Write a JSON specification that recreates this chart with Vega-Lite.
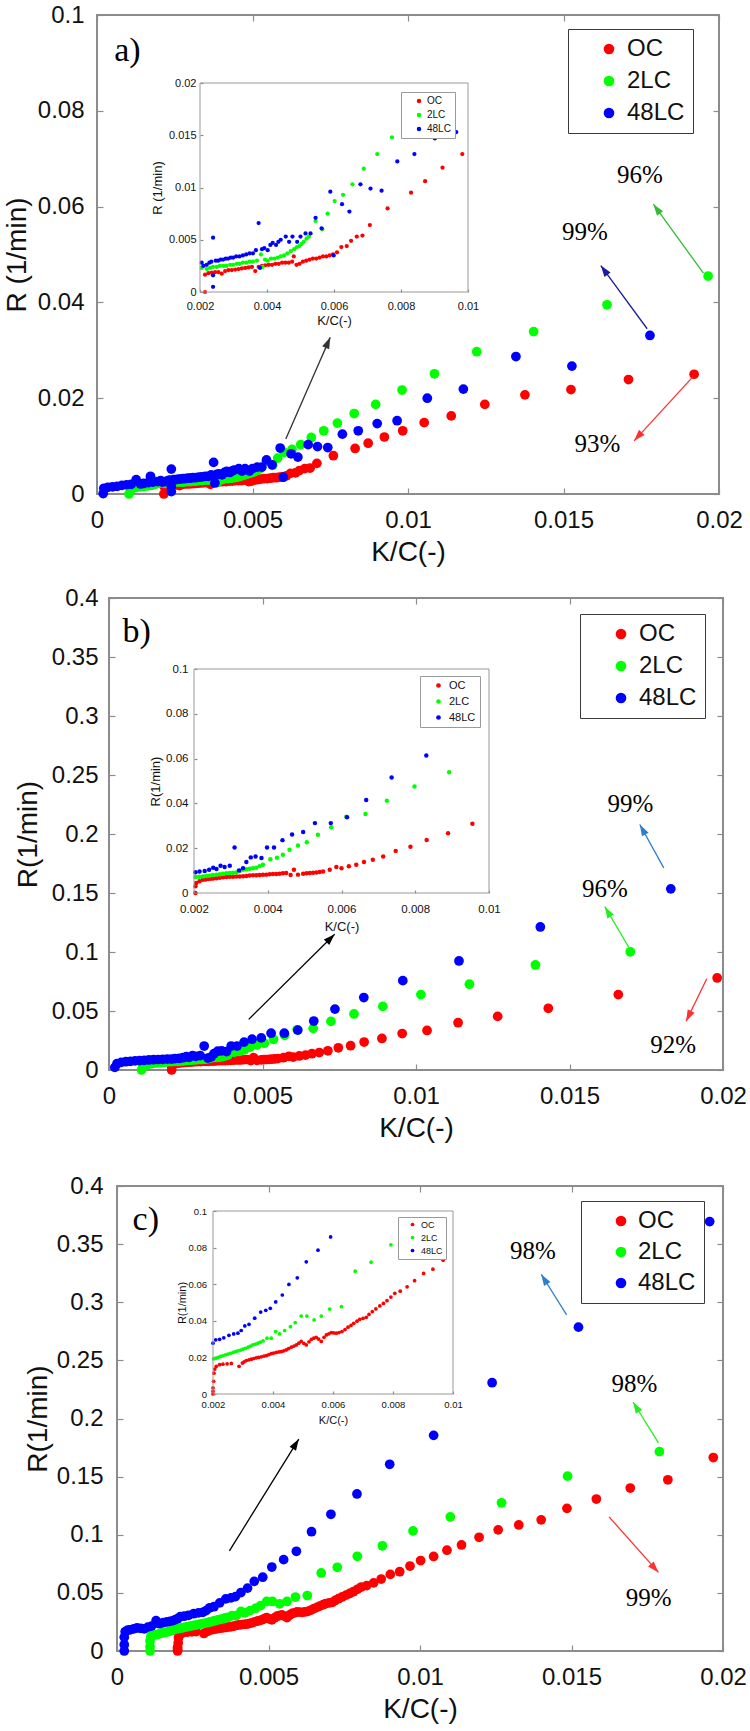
{
"$schema": "https://vega.github.io/schema/vega-lite/v6.json",
"width": 750, "height": 1731, "padding": 0, "autosize": {"type": "none"},
"background": "white",
"config": {
  "view": {"stroke": null},
  "font": "Liberation Sans",
  "axis": {"grid": false, "domain": false, "labelFont": "Liberation Sans", "titleFont": "Liberation Sans", "titleFontWeight": "normal", "labelColor": "#111", "titleColor": "#111", "tickColor": "#8c8c8c", "tickWidth": 1.2, "labelFlush": false, "labelOverlap": false, "labelBound": false, "format": "~g"},
  "legend": {"labelFont": "Liberation Sans", "labelColor": "#111", "symbolType": "circle", "symbolStrokeWidth": 0, "title": null, "orient": "none"}
},
"datasets": {
"a": [
{"s":"OC","k":0.00215,"r":0},{"s":"OC","k":0.00215,"r":0.00166},{"s":"OC","k":0.00225,"r":0.0018},{"s":"OC","k":0.00235,"r":0.00185},{"s":"OC","k":0.00245,"r":0.0019},{"s":"OC","k":0.00255,"r":0.0019},{"s":"OC","k":0.00265,"r":0.00175},{"s":"OC","k":0.00275,"r":0.002},{"s":"OC","k":0.00285,"r":0.0021},{"s":"OC","k":0.00295,"r":0.0021},{"s":"OC","k":0.00305,"r":0.00215},{"s":"OC","k":0.00315,"r":0.0022},{"s":"OC","k":0.00325,"r":0.00225},{"s":"OC","k":0.00335,"r":0.0023},{"s":"OC","k":0.00345,"r":0.00235},{"s":"OC","k":0.00355,"r":0.0024},{"s":"OC","k":0.00365,"r":0.002},{"s":"OC","k":0.00375,"r":0.0024},{"s":"OC","k":0.00385,"r":0.0025},{"s":"OC","k":0.00395,"r":0.00255},{"s":"OC","k":0.00405,"r":0.0026},{"s":"OC","k":0.00415,"r":0.0026},{"s":"OC","k":0.00425,"r":0.0027},{"s":"OC","k":0.00435,"r":0.0027},{"s":"OC","k":0.00445,"r":0.0028},{"s":"OC","k":0.00455,"r":0.0028},{"s":"OC","k":0.00465,"r":0.0028},{"s":"OC","k":0.00475,"r":0.0029},{"s":"OC","k":0.0048,"r":0.0034},{"s":"OC","k":0.00488,"r":0.0026},{"s":"OC","k":0.00497,"r":0.0027},{"s":"OC","k":0.00507,"r":0.0029},{"s":"OC","k":0.00517,"r":0.003},{"s":"OC","k":0.00527,"r":0.0031},{"s":"OC","k":0.00537,"r":0.0032},{"s":"OC","k":0.00547,"r":0.0032},{"s":"OC","k":0.00557,"r":0.0033},{"s":"OC","k":0.00567,"r":0.0034},{"s":"OC","k":0.00577,"r":0.0034},{"s":"OC","k":0.00587,"r":0.0035},{"s":"OC","k":0.00597,"r":0.0036},{"s":"OC","k":0.00609,"r":0.0038},{"s":"OC","k":0.00622,"r":0.0043},{"s":"OC","k":0.00638,"r":0.0044},{"s":"OC","k":0.00651,"r":0.0049},{"s":"OC","k":0.00668,"r":0.0053},{"s":"OC","k":0.00685,"r":0.0054},{"s":"OC","k":0.00707,"r":0.0064},{"s":"OC","k":0.0076,"r":0.008},{"s":"OC","k":0.0083,"r":0.0095},{"s":"OC","k":0.00872,"r":0.0106},{"s":"OC","k":0.00924,"r":0.0119},{"s":"OC","k":0.00983,"r":0.0132},{"s":"OC","k":0.01052,"r":0.0149},{"s":"OC","k":0.01139,"r":0.0163},{"s":"OC","k":0.01247,"r":0.0187},{"s":"OC","k":0.01376,"r":0.0207},{"s":"OC","k":0.01524,"r":0.0218},{"s":"OC","k":0.01709,"r":0.0239},{"s":"OC","k":0.0192,"r":0.025},
{"s":"2LC","k":0.00103,"r":0},{"s":"2LC","k":0.00115,"r":0.0012},{"s":"2LC","k":0.00127,"r":0.0014},{"s":"2LC","k":0.00139,"r":0.0015},{"s":"2LC","k":0.00151,"r":0.0016},{"s":"2LC","k":0.00163,"r":0.0017},{"s":"2LC","k":0.00175,"r":0.0018},{"s":"2LC","k":0.00187,"r":0.002},{"s":"2LC","k":0.00205,"r":0.0023},{"s":"2LC","k":0.0022,"r":0.0022},{"s":"2LC","k":0.0023,"r":0.0023},{"s":"2LC","k":0.00239,"r":0.0024},{"s":"2LC","k":0.0025,"r":0.0024},{"s":"2LC","k":0.00259,"r":0.0025},{"s":"2LC","k":0.0027,"r":0.0025},{"s":"2LC","k":0.00279,"r":0.0025},{"s":"2LC","k":0.0029,"r":0.0026},{"s":"2LC","k":0.00299,"r":0.0026},{"s":"2LC","k":0.0031,"r":0.0027},{"s":"2LC","k":0.00318,"r":0.0027},{"s":"2LC","k":0.00328,"r":0.0028},{"s":"2LC","k":0.00338,"r":0.0028},{"s":"2LC","k":0.00348,"r":0.0029},{"s":"2LC","k":0.00358,"r":0.0029},{"s":"2LC","k":0.0037,"r":0.003},{"s":"2LC","k":0.00382,"r":0.0036},{"s":"2LC","k":0.00387,"r":0.0024},{"s":"2LC","k":0.00394,"r":0.0031},{"s":"2LC","k":0.00402,"r":0.003},{"s":"2LC","k":0.00412,"r":0.0032},{"s":"2LC","k":0.00422,"r":0.0032},{"s":"2LC","k":0.00432,"r":0.0033},{"s":"2LC","k":0.00441,"r":0.0034},{"s":"2LC","k":0.00451,"r":0.0035},{"s":"2LC","k":0.00461,"r":0.0037},{"s":"2LC","k":0.00471,"r":0.0039},{"s":"2LC","k":0.00481,"r":0.0041},{"s":"2LC","k":0.00489,"r":0.0043},{"s":"2LC","k":0.00496,"r":0.0044},{"s":"2LC","k":0.00503,"r":0.0046},{"s":"2LC","k":0.0051,"r":0.0048},{"s":"2LC","k":0.00518,"r":0.0051},{"s":"2LC","k":0.00525,"r":0.0053},{"s":"2LC","k":0.00545,"r":0.0068},{"s":"2LC","k":0.00565,"r":0.006},{"s":"2LC","k":0.00581,"r":0.0075},{"s":"2LC","k":0.00602,"r":0.0087},{"s":"2LC","k":0.00627,"r":0.0093},{"s":"2LC","k":0.00655,"r":0.0103},{"s":"2LC","k":0.00689,"r":0.0118},{"s":"2LC","k":0.00729,"r":0.0132},{"s":"2LC","k":0.00773,"r":0.0148},{"s":"2LC","k":0.00827,"r":0.0168},{"s":"2LC","k":0.00896,"r":0.0187},{"s":"2LC","k":0.00981,"r":0.0217},{"s":"2LC","k":0.01085,"r":0.0251},{"s":"2LC","k":0.01221,"r":0.0297},{"s":"2LC","k":0.01404,"r":0.0339},{"s":"2LC","k":0.0164,"r":0.0395},{"s":"2LC","k":0.01965,"r":0.0455},
{"s":"48LC","k":0.0002,"r":0.0001},{"s":"48LC","k":0.00022,"r":0.0012},{"s":"48LC","k":0.00035,"r":0.0014},{"s":"48LC","k":0.0005,"r":0.0015},{"s":"48LC","k":0.00065,"r":0.0016},{"s":"48LC","k":0.0008,"r":0.0018},{"s":"48LC","k":0.00095,"r":0.0019},{"s":"48LC","k":0.0011,"r":0.002},{"s":"48LC","k":0.00126,"r":0.003},{"s":"48LC","k":0.0014,"r":0.0021},{"s":"48LC","k":0.0015,"r":0.0022},{"s":"48LC","k":0.00165,"r":0.0024},{"s":"48LC","k":0.00172,"r":0.0037},{"s":"48LC","k":0.0018,"r":0.0025},{"s":"48LC","k":0.00195,"r":0.0026},
{"s":"48LC","k":0.00205,"r":0.0028},{"s":"48LC","k":0.0021,"r":0.0025},{"s":"48LC","k":0.0022,"r":0.0026},{"s":"48LC","k":0.00228,"r":0.0028},{"s":"48LC","k":0.00234,"r":0.0029},{"s":"48LC","k":0.00239,"r":0.0052},{"s":"48LC","k":0.00239,"r":0.0016},{"s":"48LC","k":0.00239,"r":0.0005},{"s":"48LC","k":0.00247,"r":0.003},{"s":"48LC","k":0.00254,"r":0.003},{"s":"48LC","k":0.00262,"r":0.0031},{"s":"48LC","k":0.00269,"r":0.0031},{"s":"48LC","k":0.00277,"r":0.0032},{"s":"48LC","k":0.00284,"r":0.0032},{"s":"48LC","k":0.00292,"r":0.0033},{"s":"48LC","k":0.00299,"r":0.0033},{"s":"48LC","k":0.00308,"r":0.0034},{"s":"48LC","k":0.00318,"r":0.0034},{"s":"48LC","k":0.00328,"r":0.0035},{"s":"48LC","k":0.00338,"r":0.0036},{"s":"48LC","k":0.00348,"r":0.0037},{"s":"48LC","k":0.00358,"r":0.0037},{"s":"48LC","k":0.00367,"r":0.004},{"s":"48LC","k":0.00375,"r":0.0066},{"s":"48LC","k":0.00379,"r":0.0023},{"s":"48LC","k":0.00385,"r":0.0041},{"s":"48LC","k":0.00392,"r":0.0042},{"s":"48LC","k":0.00402,"r":0.004},{"s":"48LC","k":0.0041,"r":0.0045},{"s":"48LC","k":0.00417,"r":0.0047},{"s":"48LC","k":0.00427,"r":0.0045},{"s":"48LC","k":0.00434,"r":0.0048},{"s":"48LC","k":0.00441,"r":0.005},{"s":"48LC","k":0.00456,"r":0.0053},{"s":"48LC","k":0.00466,"r":0.0048},{"s":"48LC","k":0.00476,"r":0.0053},{"s":"48LC","k":0.0049,"r":0.0048},{"s":"48LC","k":0.005,"r":0.0053},{"s":"48LC","k":0.00515,"r":0.0056},{"s":"48LC","k":0.0053,"r":0.0056},{"s":"48LC","k":0.00545,"r":0.0071},{"s":"48LC","k":0.00563,"r":0.0061},{"s":"48LC","k":0.00589,"r":0.0096},{"s":"48LC","k":0.00599,"r":0.0035},{"s":"48LC","k":0.00624,"r":0.0084},{"s":"48LC","k":0.00646,"r":0.0077},{"s":"48LC","k":0.00679,"r":0.0103},{"s":"48LC","k":0.00709,"r":0.0099},{"s":"48LC","k":0.00742,"r":0.0097},{"s":"48LC","k":0.00789,"r":0.0125},{"s":"48LC","k":0.0084,"r":0.0132},{"s":"48LC","k":0.00901,"r":0.0147},{"s":"48LC","k":0.00965,"r":0.0153},{"s":"48LC","k":0.01062,"r":0.02},{"s":"48LC","k":0.01178,"r":0.0219},{"s":"48LC","k":0.01347,"r":0.0287},{"s":"48LC","k":0.01527,"r":0.0267},{"s":"48LC","k":0.01778,"r":0.0331}
],
"b": [
{"s":"OC","k":0.00204,"r":0},{"s":"OC","k":0.00204,"r":0.003},{"s":"OC","k":0.00206,"r":0.0045},{"s":"OC","k":0.00215,"r":0.0052},{"s":"OC","k":0.00224,"r":0.0059},{"s":"OC","k":0.00231,"r":0.006},{"s":"OC","k":0.00238,"r":0.0062},{"s":"OC","k":0.00245,"r":0.0064},{"s":"OC","k":0.00252,"r":0.0065},{"s":"OC","k":0.00261,"r":0.0066},{"s":"OC","k":0.0027,"r":0.0068},{"s":"OC","k":0.00279,"r":0.007},{"s":"OC","k":0.00288,"r":0.0071},{"s":"OC","k":0.00297,"r":0.0072},{"s":"OC","k":0.00306,"r":0.0073},{"s":"OC","k":0.00315,"r":0.0074},{"s":"OC","k":0.00324,"r":0.0074},{"s":"OC","k":0.00333,"r":0.0075},{"s":"OC","k":0.00342,"r":0.0076},{"s":"OC","k":0.00351,"r":0.0078},{"s":"OC","k":0.0036,"r":0.0079},{"s":"OC","k":0.00369,"r":0.0079},{"s":"OC","k":0.00378,"r":0.008},{"s":"OC","k":0.00387,"r":0.0081},{"s":"OC","k":0.00396,"r":0.0082},{"s":"OC","k":0.00405,"r":0.0084},{"s":"OC","k":0.00414,"r":0.0085},{"s":"OC","k":0.00423,"r":0.0085},{"s":"OC","k":0.00432,"r":0.0086},{"s":"OC","k":0.00441,"r":0.0088},{"s":"OC","k":0.0045,"r":0.0089},{"s":"OC","k":0.00462,"r":0.008},{"s":"OC","k":0.00471,"r":0.0104},{"s":"OC","k":0.00482,"r":0.0082},{"s":"OC","k":0.00496,"r":0.0086},{"s":"OC","k":0.00505,"r":0.0088},{"s":"OC","k":0.00514,"r":0.0089},{"s":"OC","k":0.00523,"r":0.009},{"s":"OC","k":0.00532,"r":0.0092},{"s":"OC","k":0.00541,"r":0.0094},{"s":"OC","k":0.0055,"r":0.0096},{"s":"OC","k":0.00568,"r":0.0104},{"s":"OC","k":0.00586,"r":0.0116},{"s":"OC","k":0.006,"r":0.011},{"s":"OC","k":0.0062,"r":0.0119},{"s":"OC","k":0.0064,"r":0.0126},{"s":"OC","k":0.00661,"r":0.0138},{"s":"OC","k":0.00685,"r":0.0148},{"s":"OC","k":0.00713,"r":0.0163},{"s":"OC","k":0.00747,"r":0.0188},{"s":"OC","k":0.00787,"r":0.0206},{"s":"OC","k":0.00831,"r":0.0237},{"s":"OC","k":0.00889,"r":0.0267},{"s":"OC","k":0.00955,"r":0.0309},{"s":"OC","k":0.01036,"r":0.0335},{"s":"OC","k":0.01137,"r":0.0401},{"s":"OC","k":0.01266,"r":0.0454},{"s":"OC","k":0.01431,"r":0.0523},{"s":"OC","k":0.01659,"r":0.0639},{"s":"OC","k":0.01981,"r":0.078},
{"s":"2LC","k":0.00106,"r":0},{"s":"2LC","k":0.0011,"r":0.0035},{"s":"2LC","k":0.0012,"r":0.0045},{"s":"2LC","k":0.0013,"r":0.005},{"s":"2LC","k":0.0014,"r":0.0055},{"s":"2LC","k":0.0015,"r":0.0058},{"s":"2LC","k":0.0016,"r":0.006},{"s":"2LC","k":0.0017,"r":0.0063},{"s":"2LC","k":0.0018,"r":0.0066},{"s":"2LC","k":0.0019,"r":0.0068},{"s":"2LC","k":0.00204,"r":0.0071},{"s":"2LC","k":0.00214,"r":0.0073},{"s":"2LC","k":0.00224,"r":0.0074},{"s":"2LC","k":0.00233,"r":0.0076},{"s":"2LC","k":0.00242,"r":0.0077},{"s":"2LC","k":0.00251,"r":0.008},{"s":"2LC","k":0.00261,"r":0.0082},{"s":"2LC","k":0.0027,"r":0.0084},{"s":"2LC","k":0.00279,"r":0.0086},{"s":"2LC","k":0.00288,"r":0.0088},{"s":"2LC","k":0.00297,"r":0.0089},{"s":"2LC","k":0.00306,"r":0.009},{"s":"2LC","k":0.00315,"r":0.0092},{"s":"2LC","k":0.00324,"r":0.0098},{"s":"2LC","k":0.00333,"r":0.0104},{"s":"2LC","k":0.00342,"r":0.0106},{"s":"2LC","k":0.00351,"r":0.0108},{"s":"2LC","k":0.0036,"r":0.011},{"s":"2LC","k":0.00369,"r":0.0113},{"s":"2LC","k":0.00378,"r":0.012},{"s":"2LC","k":0.00387,"r":0.0126},{"s":"2LC","k":0.00407,"r":0.0151},{"s":"2LC","k":0.00425,"r":0.0157},{"s":"2LC","k":0.00441,"r":0.0171},{"s":"2LC","k":0.00459,"r":0.0193},{"s":"2LC","k":0.00482,"r":0.0212},{"s":"2LC","k":0.00506,"r":0.0227},{"s":"2LC","k":0.00536,"r":0.026},{"s":"2LC","k":0.00572,"r":0.0294},{"s":"2LC","k":0.00613,"r":0.0341},{"s":"2LC","k":0.00665,"r":0.0353},{"s":"2LC","k":0.00723,"r":0.0412},{"s":"2LC","k":0.00798,"r":0.0475},{"s":"2LC","k":0.00892,"r":0.0539},{"s":"2LC","k":0.01016,"r":0.0639},{"s":"2LC","k":0.01174,"r":0.0727},{"s":"2LC","k":0.01389,"r":0.089},{"s":"2LC","k":0.01698,"r":0.1002},
{"s":"48LC","k":0.00019,"r":0.0022},{"s":"48LC","k":0.00026,"r":0.0053},{"s":"48LC","k":0.0004,"r":0.0065},{"s":"48LC","k":0.00055,"r":0.007},{"s":"48LC","k":0.0007,"r":0.0074},{"s":"48LC","k":0.00085,"r":0.0077},{"s":"48LC","k":0.001,"r":0.008},{"s":"48LC","k":0.00115,"r":0.0082},{"s":"48LC","k":0.0013,"r":0.0085},{"s":"48LC","k":0.00145,"r":0.0087},{"s":"48LC","k":0.0016,"r":0.0089},{"s":"48LC","k":0.00175,"r":0.0091},{"s":"48LC","k":0.0019,"r":0.0092},{"s":"48LC","k":0.00204,"r":0.0093},{"s":"48LC","k":0.00215,"r":0.0096},{"s":"48LC","k":0.00229,"r":0.0098},{"s":"48LC","k":0.00241,"r":0.0104},{"s":"48LC","k":0.00252,"r":0.0113},{"s":"48LC","k":0.00261,"r":0.0107},{"s":"48LC","k":0.00272,"r":0.0122},{"s":"48LC","k":0.00283,"r":0.0116},{"s":"48LC","k":0.00297,"r":0.0122},{"s":"48LC","k":0.0031,"r":0.0203},{"s":"48LC","k":0.00322,"r":0.0101},{"s":"48LC","k":0.00333,"r":0.0111},{"s":"48LC","k":0.00342,"r":0.0138},{"s":"48LC","k":0.00354,"r":0.0159},{"s":"48LC","k":0.00367,"r":0.0163},{"s":"48LC","k":0.00383,"r":0.0156},{"s":"48LC","k":0.00398,"r":0.0203},{"s":"48LC","k":0.00417,"r":0.0203},{"s":"48LC","k":0.0044,"r":0.0236},{"s":"48LC","k":0.00466,"r":0.0261},{"s":"48LC","k":0.00496,"r":0.0272},{"s":"48LC","k":0.00528,"r":0.0312},{"s":"48LC","k":0.00571,"r":0.0312},{"s":"48LC","k":0.00615,"r":0.0338},{"s":"48LC","k":0.00667,"r":0.0415},{"s":"48LC","k":0.00736,"r":0.0516},{"s":"48LC","k":0.0083,"r":0.0614},{"s":"48LC","k":0.00957,"r":0.0757},{"s":"48LC","k":0.0114,"r":0.0924},{"s":"48LC","k":0.01405,"r":0.1212},{"s":"48LC","k":0.0183,"r":0.1535}
],
"c": [
{"s":"OC","k":0.002,"r":0},{"s":"OC","k":0.002,"r":0.0015},{"s":"OC","k":0.002,"r":0.0033},{"s":"OC","k":0.00202,"r":0.0069},{"s":"OC","k":0.00203,"r":0.0114},{"s":"OC","k":0.00206,"r":0.0136},{"s":"OC","k":0.00211,"r":0.0151},{"s":"OC","k":0.00222,"r":0.016},{"s":"OC","k":0.00233,"r":0.0163},{"s":"OC","k":0.00247,"r":0.0165},{"s":"OC","k":0.00261,"r":0.0167},{"s":"OC","k":0.00287,"r":0.0151},{"s":"OC","k":0.00298,"r":0.0169},{"s":"OC","k":0.00304,"r":0.0176},{"s":"OC","k":0.00311,"r":0.0183},{"s":"OC","k":0.0032,"r":0.0187},{"s":"OC","k":0.00328,"r":0.019},{"s":"OC","k":0.00336,"r":0.0194},{"s":"OC","k":0.00344,"r":0.0198},{"s":"OC","k":0.00352,"r":0.02},{"s":"OC","k":0.00361,"r":0.0203},{"s":"OC","k":0.0037,"r":0.0207},{"s":"OC","k":0.00378,"r":0.021},{"s":"OC","k":0.00386,"r":0.0215},{"s":"OC","k":0.00394,"r":0.022},{"s":"OC","k":0.00402,"r":0.0224},{"s":"OC","k":0.00411,"r":0.0227},{"s":"OC","k":0.0042,"r":0.023},{"s":"OC","k":0.00428,"r":0.0232},{"s":"OC","k":0.00436,"r":0.0236},{"s":"OC","k":0.00444,"r":0.0241},{"s":"OC","k":0.00452,"r":0.0248},{"s":"OC","k":0.00461,"r":0.0256},{"s":"OC","k":0.0047,"r":0.0262},{"s":"OC","k":0.00478,"r":0.0268},{"s":"OC","k":0.00486,"r":0.0278},{"s":"OC","k":0.00494,"r":0.0287},{"s":"OC","k":0.00503,"r":0.0276},{"s":"OC","k":0.00511,"r":0.0268},{"s":"OC","k":0.0052,"r":0.0285},{"s":"OC","k":0.00528,"r":0.0299},{"s":"OC","k":0.00536,"r":0.0305},{"s":"OC","k":0.00544,"r":0.031},{"s":"OC","k":0.00552,"r":0.03},{"s":"OC","k":0.00561,"r":0.0287},{"s":"OC","k":0.0057,"r":0.031},{"s":"OC","k":0.00578,"r":0.0323},{"s":"OC","k":0.00586,"r":0.0329},{"s":"OC","k":0.00594,"r":0.0336},{"s":"OC","k":0.00602,"r":0.0334},{"s":"OC","k":0.00611,"r":0.0332},{"s":"OC","k":0.0062,"r":0.0336},{"s":"OC","k":0.0063,"r":0.0341},{"s":"OC","k":0.0064,"r":0.0352},{"s":"OC","k":0.0065,"r":0.0365},{"s":"OC","k":0.0066,"r":0.0375},{"s":"OC","k":0.00669,"r":0.0386},{"s":"OC","k":0.0068,"r":0.0398},{"s":"OC","k":0.00689,"r":0.0408},{"s":"OC","k":0.007,"r":0.0413},{"s":"OC","k":0.00711,"r":0.0419},{"s":"OC","k":0.0072,"r":0.0435},{"s":"OC","k":0.00731,"r":0.045},{"s":"OC","k":0.00743,"r":0.0465},{"s":"OC","k":0.00756,"r":0.0481},{"s":"OC","k":0.00768,"r":0.0495},{"s":"OC","k":0.0078,"r":0.051},{"s":"OC","k":0.00793,"r":0.053},{"s":"OC","k":0.00806,"r":0.055},{"s":"OC","k":0.00824,"r":0.0562},{"s":"OC","k":0.00847,"r":0.0586},{"s":"OC","k":0.00872,"r":0.0619},{"s":"OC","k":0.00902,"r":0.0659},{"s":"OC","k":0.00933,"r":0.0682},{"s":"OC","k":0.00967,"r":0.0731},{"s":"OC","k":0.01002,"r":0.0778},{"s":"OC","k":0.01045,"r":0.0813},{"s":"OC","k":0.01089,"r":0.0867},{"s":"OC","k":0.01137,"r":0.0912},{"s":"OC","k":0.01195,"r":0.0978},{"s":"OC","k":0.01258,"r":0.1042},{"s":"OC","k":0.01326,"r":0.1084},{"s":"OC","k":0.014,"r":0.1128},{"s":"OC","k":0.01485,"r":0.1227},{"s":"OC","k":0.01582,"r":0.1307},{"s":"OC","k":0.01694,"r":0.1402},{"s":"OC","k":0.01818,"r":0.1473},{"s":"OC","k":0.01968,"r":0.1664},
{"s":"2LC","k":0.00109,"r":0},{"s":"2LC","k":0.00109,"r":0.0038},{"s":"2LC","k":0.00109,"r":0.0086},{"s":"2LC","k":0.00112,"r":0.0127},{"s":"2LC","k":0.0012,"r":0.0135},{"s":"2LC","k":0.0013,"r":0.014},{"s":"2LC","k":0.0014,"r":0.0147},{"s":"2LC","k":0.0015,"r":0.0155},{"s":"2LC","k":0.0016,"r":0.016},{"s":"2LC","k":0.0017,"r":0.0167},{"s":"2LC","k":0.0018,"r":0.0175},{"s":"2LC","k":0.0019,"r":0.0185},{"s":"2LC","k":0.00202,"r":0.0192},{"s":"2LC","k":0.0021,"r":0.0196},{"s":"2LC","k":0.00217,"r":0.02},{"s":"2LC","k":0.00225,"r":0.0205},{"s":"2LC","k":0.00233,"r":0.0209},{"s":"2LC","k":0.00242,"r":0.0214},{"s":"2LC","k":0.0025,"r":0.0218},{"s":"2LC","k":0.00258,"r":0.0222},{"s":"2LC","k":0.00267,"r":0.0227},{"s":"2LC","k":0.00275,"r":0.0231},{"s":"2LC","k":0.00283,"r":0.0236},{"s":"2LC","k":0.00292,"r":0.024},{"s":"2LC","k":0.003,"r":0.0245},{"s":"2LC","k":0.00308,"r":0.025},{"s":"2LC","k":0.00317,"r":0.0256},{"s":"2LC","k":0.00325,"r":0.0262},{"s":"2LC","k":0.00333,"r":0.0268},{"s":"2LC","k":0.00342,"r":0.0273},{"s":"2LC","k":0.0035,"r":0.0278},{"s":"2LC","k":0.00358,"r":0.0284},{"s":"2LC","k":0.00367,"r":0.029},{"s":"2LC","k":0.0038,"r":0.0305},{"s":"2LC","k":0.00394,"r":0.0305},{"s":"2LC","k":0.00409,"r":0.0341},{"s":"2LC","k":0.00422,"r":0.0328},{"s":"2LC","k":0.00439,"r":0.0347},{"s":"2LC","k":0.00458,"r":0.0368},{"s":"2LC","k":0.00474,"r":0.039},{"s":"2LC","k":0.00494,"r":0.0426},{"s":"2LC","k":0.00513,"r":0.0426},{"s":"2LC","k":0.00537,"r":0.0405},{"s":"2LC","k":0.00561,"r":0.0426},{"s":"2LC","k":0.00589,"r":0.0464},{"s":"2LC","k":0.00628,"r":0.0477},{"s":"2LC","k":0.00674,"r":0.0671},{"s":"2LC","k":0.00727,"r":0.072},{"s":"2LC","k":0.00793,"r":0.0815},{"s":"2LC","k":0.00876,"r":0.0905},{"s":"2LC","k":0.00977,"r":0.1033},{"s":"2LC","k":0.011,"r":0.1154},{"s":"2LC","k":0.01269,"r":0.1275},{"s":"2LC","k":0.01487,"r":0.1504},{"s":"2LC","k":0.0179,"r":0.1715},
{"s":"48LC","k":0.00024,"r":0},{"s":"48LC","k":0.00024,"r":0.0054},{"s":"48LC","k":0.00024,"r":0.0118},{"s":"48LC","k":0.00027,"r":0.0166},{"s":"48LC","k":0.00035,"r":0.018},{"s":"48LC","k":0.00043,"r":0.0182},{"s":"48LC","k":0.00055,"r":0.019},{"s":"48LC","k":0.00066,"r":0.0198},{"s":"48LC","k":0.00078,"r":0.0195},{"s":"48LC","k":0.0009,"r":0.0191},{"s":"48LC","k":0.00102,"r":0.0205},{"s":"48LC","k":0.00114,"r":0.0214},{"s":"48LC","k":0.00129,"r":0.0261},{"s":"48LC","k":0.0014,"r":0.0235},{"s":"48LC","k":0.00153,"r":0.0245},{"s":"48LC","k":0.00165,"r":0.025},{"s":"48LC","k":0.00175,"r":0.0255},{"s":"48LC","k":0.00185,"r":0.0261},{"s":"48LC","k":0.00193,"r":0.027},{"s":"48LC","k":0.002,"r":0.0278},{"s":"48LC","k":0.00209,"r":0.0296},{"s":"48LC","k":0.00222,"r":0.0299},{"s":"48LC","k":0.00236,"r":0.0307},{"s":"48LC","k":0.00253,"r":0.0321},{"s":"48LC","k":0.00269,"r":0.0328},{"s":"48LC","k":0.00283,"r":0.0332},{"s":"48LC","k":0.00294,"r":0.0347},{"s":"48LC","k":0.00306,"r":0.0372},{"s":"48LC","k":0.0032,"r":0.0381},{"s":"48LC","k":0.00339,"r":0.0414},{"s":"48LC","k":0.00359,"r":0.0448},{"s":"48LC","k":0.00376,"r":0.0457},{"s":"48LC","k":0.00391,"r":0.0468},{"s":"48LC","k":0.00409,"r":0.0503},{"s":"48LC","k":0.00431,"r":0.0541},{"s":"48LC","k":0.00453,"r":0.0599},{"s":"48LC","k":0.00481,"r":0.0635},{"s":"48LC","k":0.00511,"r":0.0722},{"s":"48LC","k":0.0055,"r":0.0786},{"s":"48LC","k":0.00592,"r":0.0858},{"s":"48LC","k":0.00642,"r":0.1026},{"s":"48LC","k":0.00706,"r":0.1176},{"s":"48LC","k":0.00792,"r":0.1351},{"s":"48LC","k":0.009,"r":0.1606},{"s":"48LC","k":0.01045,"r":0.1855},{"s":"48LC","k":0.01238,"r":0.2308},{"s":"48LC","k":0.01523,"r":0.2786},{"s":"48LC","k":0.01956,"r":0.3694}
],
"arr": [
{"p":"a","kind":"zoom","x":0.00607,"y":0.0115,"x2":0.0075,"y2":0.0327,"dir":23.6},
{"p":"a","kind":"2LC","x":0.0195,"y":0.0461,"x2":0.01789,"y2":0.0605,"dir":-35.9},
{"p":"a","kind":"48LC","x":0.01769,"y":0.0345,"x2":0.0162,"y2":0.0477,"dir":-36.1},
{"p":"a","kind":"OC","x":0.01915,"y":0.0244,"x2":0.01727,"y2":0.0111,"dir":-137.5},
{"p":"b","kind":"zoom","x":0.00455,"y":0.0429,"x2":0.00735,"y2":0.115,"dir":45.3},
{"p":"b","kind":"48LC","x":0.01807,"y":0.1713,"x2":0.01729,"y2":0.208,"dir":-28.9},
{"p":"b","kind":"2LC","x":0.01693,"y":0.104,"x2":0.01615,"y2":0.1384,"dir":-30.5},
{"p":"b","kind":"OC","x":0.01947,"y":0.0774,"x2":0.0188,"y2":0.0413,"dir":-154.2},
{"p":"c","kind":"zoom","x":0.00371,"y":0.0861,"x2":0.006,"y2":0.1823,"dir":31.8},
{"p":"c","kind":"48LC","x":0.01484,"y":0.2891,"x2":0.014,"y2":0.3241,"dir":-32},
{"p":"c","kind":"2LC","x":0.01787,"y":0.1791,"x2":0.01703,"y2":0.2142,"dir":-31.9},
{"p":"c","kind":"OC","x":0.01624,"y":0.1154,"x2":0.01787,"y2":0.0676,"dir":138.4}
],
"lab": [
{"p":"a","t":"96%","x":0.01746,"y":0.0665},{"p":"a","t":"99%","x":0.01569,"y":0.0546},{"p":"a","t":"93%","x":0.01609,"y":0.0104},
{"p":"b","t":"99%","x":0.01698,"y":0.2255},{"p":"b","t":"96%","x":0.01615,"y":0.1535},{"p":"b","t":"92%","x":0.01838,"y":0.021},
{"p":"c","t":"98%","x":0.01373,"y":0.3442},{"p":"c","t":"98%","x":0.01708,"y":0.2295},{"p":"c","t":"99%","x":0.01755,"y":0.0459}
],
"pl": [
{"p":"a","t":"a)","x":0.00098,"y":0.0924},{"p":"b","t":"b)","x":0.0009,"y":0.371},{"p":"c","t":"c)","x":0.00095,"y":0.3708}
]
},
"layer": [
{
 "layer": [
  {"data": {"values": [{}]}, "mark": {"type": "rect", "fillOpacity": 0, "stroke": "#8c8c8c", "strokeWidth": 2},
   "encoding": {
    "x": {"datum": 0, "type": "quantitative", "scale": {"domain": [0, 0.02], "range": [97, 719], "nice": false, "zero": false}, "axis": {"orient": "top", "offset": -15, "values": [0, 0.005, 0.01, 0.015, 0.02], "labels": false, "title": null, "tickSize": -6}},
    "x2": {"datum": 0.02},
    "y": {"datum": 0, "type": "quantitative", "scale": {"domain": [0, 0.1], "range": [494, 15], "nice": false, "zero": false}, "axis": {"orient": "right", "offset": -31, "values": [0, 0.02, 0.04, 0.06, 0.08, 0.1], "labels": false, "title": null, "tickSize": -6}},
    "y2": {"datum": 0.1}}},
  {"data": {"name": "a"}, "mark": {"type": "point", "filled": true, "size": 95, "opacity": 1},
   "encoding": {
    "x": {"field": "k", "type": "quantitative", "scale": {"domain": [0, 0.02], "range": [97, 719], "nice": false, "zero": false}, "axis": {"orient": "bottom", "offset": -1237, "values": [0, 0.005, 0.01, 0.015, 0.02], "labelFontSize": 24, "labelPadding": 20, "tickSize": -6, "title": "K/C(-)", "titleFontSize": 28, "titlePadding": 6}},
    "y": {"field": "r", "type": "quantitative", "scale": {"domain": [0, 0.1], "range": [494, 15], "nice": false, "zero": false}, "axis": {"orient": "left", "offset": -97, "values": [0, 0.02, 0.04, 0.06, 0.08, 0.1], "labelFontSize": 24, "labelPadding": 19, "tickSize": -6, "title": "R (1/min)", "titleFontSize": 28, "titlePadding": 6}},
    "color": {"field": "s", "type": "nominal", "sort": null, "scale": {"domain": ["OC", "2LC", "48LC"], "range": ["#ff0000", "#00ff00", "#0000ff"]},
      "legend": {"orient": "none", "legendX": 568, "legendY": 29, "labelFontSize": 24, "symbolSize": 113, "padding": 8, "symbolOffset": 21, "labelOffset": 6, "rowPadding": 8, "strokeColor": "#3a3a3a", "fillColor": "white"}}}},
  {"data": {"name": "arr"}, "transform": [{"filter": "datum.p === 'a'"}], "mark": {"type": "rule", "strokeWidth": 1.3},
   "encoding": {"x": {"field": "x", "type": "quantitative", "axis": null}, "y": {"field": "y", "type": "quantitative", "axis": null}, "x2": {"field": "x2"}, "y2": {"field": "y2"},
    "stroke": {"field": "kind", "type": "nominal", "scale": {"domain": ["OC", "2LC", "48LC", "zoom"], "range": ["#ff3030", "#33bb33", "#1c1ca0", "#333333"]}, "legend": null}}},
  {"data": {"name": "arr"}, "transform": [{"filter": "datum.p === 'a'"}], "mark": {"type": "point", "shape": "M0,0L0.6,1.8L-0.6,1.8Z", "filled": true, "size": 160, "strokeWidth": 0, "opacity": 1},
   "encoding": {"x": {"field": "x2", "type": "quantitative", "axis": null}, "y": {"field": "y2", "type": "quantitative", "axis": null}, "angle": {"field": "dir", "type": "quantitative", "scale": null},
    "fill": {"field": "kind", "type": "nominal", "scale": {"domain": ["OC", "2LC", "48LC", "zoom"], "range": ["#ff3030", "#33bb33", "#1c1ca0", "#333333"]}, "legend": null}}},
  {"data": {"name": "lab"}, "transform": [{"filter": "datum.p === 'a'"}], "mark": {"type": "text", "font": "Liberation Serif", "fontSize": 25, "color": "#000"},
   "encoding": {"x": {"field": "x", "type": "quantitative", "axis": null}, "y": {"field": "y", "type": "quantitative", "axis": null}, "text": {"field": "t"}}},
  {"data": {"name": "pl"}, "transform": [{"filter": "datum.p === 'a'"}], "mark": {"type": "text", "font": "Liberation Serif", "fontSize": 34, "color": "#000"},
   "encoding": {"x": {"field": "x", "type": "quantitative", "axis": null}, "y": {"field": "y", "type": "quantitative", "axis": null}, "text": {"field": "t"}}}
 ],
 "resolve": {"axis": {"x": "independent", "y": "independent"}}
},
{
 "layer": [
  {"data": {"name": "a"}, "transform": [{"filter": "datum.k >= 0.002 && datum.k <= 0.01 && datum.r <= 0.02"}], "mark": {"type": "point", "filled": true, "size": 18, "opacity": 1},
   "encoding": {
    "x": {"field": "k", "type": "quantitative", "scale": {"domain": [0.002, 0.01], "range": [200, 468], "nice": false, "zero": false}, "axis": {"orient": "bottom", "offset": -1439, "values": [0.002, 0.004, 0.006, 0.008, 0.01], "labelFontSize": 11, "labelPadding": 11, "tickSize": -3, "title": "K/C(-)", "titleFontSize": 13, "titlePadding": 3}},
    "y": {"field": "r", "type": "quantitative", "scale": {"domain": [0, 0.02], "range": [292, 83], "nice": false, "zero": false}, "axis": {"orient": "left", "offset": -200, "values": [0, 0.005, 0.01, 0.015, 0.02], "labelFontSize": 11, "labelPadding": 7, "tickSize": -3, "title": "R (1/min)", "titleFontSize": 13, "titlePadding": 4}},
    "color": {"field": "s", "type": "nominal", "sort": null, "scale": {"domain": ["OC", "2LC", "48LC"], "range": ["#ff0000", "#00ff00", "#0000ff"]},
      "legend": {"orient": "none", "legendX": 401, "legendY": 92, "labelFontSize": 10, "symbolSize": 20, "padding": 4, "symbolOffset": 9, "labelOffset": 3, "rowPadding": 4, "strokeColor": "#9a9a9a", "fillColor": "white"}}}},
  {"data": {"values": [{}]}, "mark": {"type": "rect", "fillOpacity": 0, "stroke": "#999999", "strokeWidth": 1},
   "encoding": {"x": {"datum": 0.002, "type": "quantitative", "axis": null}, "x2": {"datum": 0.01}, "y": {"datum": 0, "type": "quantitative", "axis": null}, "y2": {"datum": 0.02}}}
 ],
 "resolve": {"axis": {"x": "independent", "y": "independent"}}
},
{
 "layer": [
  {"data": {"values": [{}]}, "mark": {"type": "rect", "fillOpacity": 0, "stroke": "#8c8c8c", "strokeWidth": 2},
   "encoding": {
    "x": {"datum": 0, "type": "quantitative", "scale": {"domain": [0, 0.02], "range": [109, 723], "nice": false, "zero": false}, "axis": {"orient": "top", "offset": -598, "values": [0, 0.005, 0.01, 0.015, 0.02], "labels": false, "title": null, "tickSize": -6}},
    "x2": {"datum": 0.02},
    "y": {"datum": 0, "type": "quantitative", "scale": {"domain": [0, 0.4], "range": [1070, 598], "nice": false, "zero": false}, "axis": {"orient": "right", "offset": -27, "values": [0, 0.05, 0.1, 0.15, 0.2, 0.25, 0.3, 0.35, 0.4], "labels": false, "title": null, "tickSize": -6}},
    "y2": {"datum": 0.4}}},
  {"data": {"name": "b"}, "mark": {"type": "point", "filled": true, "size": 95, "opacity": 1},
   "encoding": {
    "x": {"field": "k", "type": "quantitative", "scale": {"domain": [0, 0.02], "range": [109, 723], "nice": false, "zero": false}, "axis": {"orient": "bottom", "offset": -661, "values": [0, 0.005, 0.01, 0.015, 0.02], "labelFontSize": 24, "labelPadding": 20, "tickSize": -6, "title": "K/C(-)", "titleFontSize": 28, "titlePadding": 6}},
    "y": {"field": "r", "type": "quantitative", "scale": {"domain": [0, 0.4], "range": [1070, 598], "nice": false, "zero": false}, "axis": {"orient": "left", "offset": -109, "values": [0, 0.05, 0.1, 0.15, 0.2, 0.25, 0.3, 0.35, 0.4], "labelFontSize": 24, "labelPadding": 17, "tickSize": -6, "title": "R(1/min)", "titleFontSize": 28, "titlePadding": 9}},
    "color": {"field": "s", "type": "nominal", "sort": null, "scale": {"domain": ["OC", "2LC", "48LC"], "range": ["#ff0000", "#00ff00", "#0000ff"]},
      "legend": {"orient": "none", "legendX": 580, "legendY": 614, "labelFontSize": 24, "symbolSize": 113, "padding": 8, "symbolOffset": 21, "labelOffset": 6, "rowPadding": 8, "strokeColor": "#3a3a3a", "fillColor": "white"}}}},
  {"data": {"name": "arr"}, "transform": [{"filter": "datum.p === 'b'"}], "mark": {"type": "rule", "strokeWidth": 1.3},
   "encoding": {"x": {"field": "x", "type": "quantitative", "axis": null}, "y": {"field": "y", "type": "quantitative", "axis": null}, "x2": {"field": "x2"}, "y2": {"field": "y2"},
    "stroke": {"field": "kind", "type": "nominal", "scale": {"domain": ["OC", "2LC", "48LC", "zoom"], "range": ["#ff3030", "#22ee22", "#2b7fd0", "#000000"]}, "legend": null}}},
  {"data": {"name": "arr"}, "transform": [{"filter": "datum.p === 'b'"}], "mark": {"type": "point", "shape": "M0,0L0.6,1.8L-0.6,1.8Z", "filled": true, "size": 160, "strokeWidth": 0, "opacity": 1},
   "encoding": {"x": {"field": "x2", "type": "quantitative", "axis": null}, "y": {"field": "y2", "type": "quantitative", "axis": null}, "angle": {"field": "dir", "type": "quantitative", "scale": null},
    "fill": {"field": "kind", "type": "nominal", "scale": {"domain": ["OC", "2LC", "48LC", "zoom"], "range": ["#ff3030", "#22ee22", "#2b7fd0", "#000000"]}, "legend": null}}},
  {"data": {"name": "lab"}, "transform": [{"filter": "datum.p === 'b'"}], "mark": {"type": "text", "font": "Liberation Serif", "fontSize": 25, "color": "#000"},
   "encoding": {"x": {"field": "x", "type": "quantitative", "axis": null}, "y": {"field": "y", "type": "quantitative", "axis": null}, "text": {"field": "t"}}},
  {"data": {"name": "pl"}, "transform": [{"filter": "datum.p === 'b'"}], "mark": {"type": "text", "font": "Liberation Serif", "fontSize": 34, "color": "#000"},
   "encoding": {"x": {"field": "x", "type": "quantitative", "axis": null}, "y": {"field": "y", "type": "quantitative", "axis": null}, "text": {"field": "t"}}}
 ],
 "resolve": {"axis": {"x": "independent", "y": "independent"}}
},
{
 "layer": [
  {"data": {"name": "b"}, "transform": [{"filter": "datum.k >= 0.002 && datum.k <= 0.01 && datum.r <= 0.1"}], "mark": {"type": "point", "filled": true, "size": 20, "opacity": 1},
   "encoding": {
    "x": {"field": "k", "type": "quantitative", "scale": {"domain": [0.002, 0.01], "range": [194, 489], "nice": false, "zero": false}, "axis": {"orient": "bottom", "offset": -838, "values": [0.002, 0.004, 0.006, 0.008, 0.01], "labelFontSize": 11.5, "labelPadding": 13, "tickSize": -3, "title": "K/C(-)", "titleFontSize": 13, "titlePadding": 6}},
    "y": {"field": "r", "type": "quantitative", "scale": {"domain": [0, 0.1], "range": [893, 669], "nice": false, "zero": false}, "axis": {"orient": "left", "offset": -194, "values": [0, 0.02, 0.04, 0.06, 0.08, 0.1], "labelFontSize": 11.5, "labelPadding": 9, "tickSize": -3, "title": "R(1/min)", "titleFontSize": 13, "titlePadding": 3}},
    "color": {"field": "s", "type": "nominal", "sort": null, "scale": {"domain": ["OC", "2LC", "48LC"], "range": ["#ff0000", "#00ff00", "#0000ff"]},
      "legend": {"orient": "none", "legendX": 420, "legendY": 676, "labelFontSize": 11, "symbolSize": 22, "padding": 4, "symbolOffset": 9, "labelOffset": 5, "rowPadding": 4, "strokeColor": "#9a9a9a", "fillColor": "white"}}}},
  {"data": {"values": [{}]}, "mark": {"type": "rect", "fillOpacity": 0, "stroke": "#999999", "strokeWidth": 1},
   "encoding": {"x": {"datum": 0.002, "type": "quantitative", "axis": null}, "x2": {"datum": 0.01}, "y": {"datum": 0, "type": "quantitative", "axis": null}, "y2": {"datum": 0.1}}}
 ],
 "resolve": {"axis": {"x": "independent", "y": "independent"}}
},
{
 "layer": [
  {"data": {"values": [{}]}, "mark": {"type": "rect", "fillOpacity": 0, "stroke": "#8c8c8c", "strokeWidth": 2},
   "encoding": {
    "x": {"datum": 0, "type": "quantitative", "scale": {"domain": [0, 0.02], "range": [117, 723], "nice": false, "zero": false}, "axis": {"orient": "top", "offset": -1186, "values": [0, 0.005, 0.01, 0.015, 0.02], "labels": false, "title": null, "tickSize": -6}},
    "x2": {"datum": 0.02},
    "y": {"datum": 0, "type": "quantitative", "scale": {"domain": [0, 0.4], "range": [1651, 1186], "nice": false, "zero": false}, "axis": {"orient": "right", "offset": -27, "values": [0, 0.05, 0.1, 0.15, 0.2, 0.25, 0.3, 0.35, 0.4], "labels": false, "title": null, "tickSize": -6}},
    "y2": {"datum": 0.4}}},
  {"data": {"name": "c"}, "mark": {"type": "point", "filled": true, "size": 95, "opacity": 1},
   "encoding": {
    "x": {"field": "k", "type": "quantitative", "scale": {"domain": [0, 0.02], "range": [117, 723], "nice": false, "zero": false}, "axis": {"orient": "bottom", "offset": -80, "values": [0, 0.005, 0.01, 0.015, 0.02], "labelFontSize": 24, "labelPadding": 20, "tickSize": -6, "title": "K/C(-)", "titleFontSize": 28, "titlePadding": 6}},
    "y": {"field": "r", "type": "quantitative", "scale": {"domain": [0, 0.4], "range": [1651, 1186], "nice": false, "zero": false}, "axis": {"orient": "left", "offset": -117, "values": [0, 0.05, 0.1, 0.15, 0.2, 0.25, 0.3, 0.35, 0.4], "labelFontSize": 24, "labelPadding": 20, "tickSize": -6, "title": "R(1/min)", "titleFontSize": 28, "titlePadding": 4}},
    "color": {"field": "s", "type": "nominal", "sort": null, "scale": {"domain": ["OC", "2LC", "48LC"], "range": ["#ff0000", "#00ff00", "#0000ff"]},
      "legend": {"orient": "none", "legendX": 581, "legendY": 1201, "labelFontSize": 24, "symbolSize": 113, "padding": 8, "symbolOffset": 20, "labelOffset": 5, "rowPadding": 7, "strokeColor": "#3a3a3a", "fillColor": "white"}}}},
  {"data": {"name": "arr"}, "transform": [{"filter": "datum.p === 'c'"}], "mark": {"type": "rule", "strokeWidth": 1.3},
   "encoding": {"x": {"field": "x", "type": "quantitative", "axis": null}, "y": {"field": "y", "type": "quantitative", "axis": null}, "x2": {"field": "x2"}, "y2": {"field": "y2"},
    "stroke": {"field": "kind", "type": "nominal", "scale": {"domain": ["OC", "2LC", "48LC", "zoom"], "range": ["#ff3030", "#22ee22", "#2b7fd0", "#000000"]}, "legend": null}}},
  {"data": {"name": "arr"}, "transform": [{"filter": "datum.p === 'c'"}], "mark": {"type": "point", "shape": "M0,0L0.6,1.8L-0.6,1.8Z", "filled": true, "size": 160, "strokeWidth": 0, "opacity": 1},
   "encoding": {"x": {"field": "x2", "type": "quantitative", "axis": null}, "y": {"field": "y2", "type": "quantitative", "axis": null}, "angle": {"field": "dir", "type": "quantitative", "scale": null},
    "fill": {"field": "kind", "type": "nominal", "scale": {"domain": ["OC", "2LC", "48LC", "zoom"], "range": ["#ff3030", "#22ee22", "#2b7fd0", "#000000"]}, "legend": null}}},
  {"data": {"name": "lab"}, "transform": [{"filter": "datum.p === 'c'"}], "mark": {"type": "text", "font": "Liberation Serif", "fontSize": 25, "color": "#000"},
   "encoding": {"x": {"field": "x", "type": "quantitative", "axis": null}, "y": {"field": "y", "type": "quantitative", "axis": null}, "text": {"field": "t"}}},
  {"data": {"name": "pl"}, "transform": [{"filter": "datum.p === 'c'"}], "mark": {"type": "text", "font": "Liberation Serif", "fontSize": 34, "color": "#000"},
   "encoding": {"x": {"field": "x", "type": "quantitative", "axis": null}, "y": {"field": "y", "type": "quantitative", "axis": null}, "text": {"field": "t"}}}
 ],
 "resolve": {"axis": {"x": "independent", "y": "independent"}}
},
{
 "layer": [
  {"data": {"name": "c"}, "transform": [{"filter": "datum.k >= 0.002 && datum.k <= 0.01 && datum.r <= 0.1"}], "mark": {"type": "point", "filled": true, "size": 14, "opacity": 1},
   "encoding": {
    "x": {"field": "k", "type": "quantitative", "scale": {"domain": [0.002, 0.01], "range": [213, 453], "nice": false, "zero": false}, "axis": {"orient": "bottom", "offset": -337, "values": [0.002, 0.004, 0.006, 0.008, 0.01], "labelFontSize": 9.5, "labelPadding": 8.5, "tickSize": -3, "title": "K/C(-)", "titleFontSize": 11, "titlePadding": 5}},
    "y": {"field": "r", "type": "quantitative", "scale": {"domain": [0, 0.1], "range": [1394, 1211], "nice": false, "zero": false}, "axis": {"orient": "left", "offset": -213, "values": [0, 0.02, 0.04, 0.06, 0.08, 0.1], "labelFontSize": 9.5, "labelPadding": 9.5, "tickSize": -3, "title": "R(1/min)", "titleFontSize": 11, "titlePadding": 1}},
    "color": {"field": "s", "type": "nominal", "sort": null, "scale": {"domain": ["OC", "2LC", "48LC"], "range": ["#ff0000", "#00ff00", "#0000ff"]},
      "legend": {"orient": "none", "legendX": 398, "legendY": 1217, "labelFontSize": 9, "symbolSize": 14, "padding": 3, "symbolOffset": 7, "labelOffset": 4, "rowPadding": 3, "strokeColor": "#9a9a9a", "fillColor": "white"}}}},
  {"data": {"values": [{}]}, "mark": {"type": "rect", "fillOpacity": 0, "stroke": "#999999", "strokeWidth": 1},
   "encoding": {"x": {"datum": 0.002, "type": "quantitative", "axis": null}, "x2": {"datum": 0.01}, "y": {"datum": 0, "type": "quantitative", "axis": null}, "y2": {"datum": 0.1}}}
 ],
 "resolve": {"axis": {"x": "independent", "y": "independent"}}
}
],
"resolve": {
  "scale": {"x": "independent", "y": "independent", "color": "independent", "stroke": "independent", "fill": "independent"},
  "axis": {"x": "independent", "y": "independent"},
  "legend": {"color": "independent"}
}
}
